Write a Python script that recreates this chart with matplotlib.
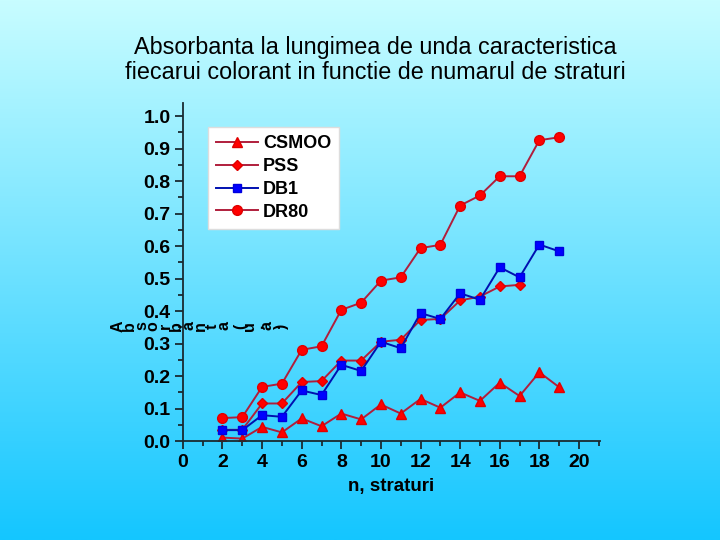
import numpy as np
import matplotlib.pyplot as plt
from matplotlib.ticker import MultipleLocator

plt.rcParams['font.family'] = ['Liberation Sans', 'DejaVu Sans']

# layers (n, straturi)
n_layers = list(range(2, 20))

csmoo = [0.011, 0.008, 0.044, 0.027, 0.070, 0.046, 0.085, 0.067, 0.113,
         0.085, 0.130, 0.103, 0.150, 0.124, 0.180, 0.139, 0.212, 0.166]
pss = [0.035, 0.035, 0.116, 0.116, 0.182, 0.185, 0.248, 0.248, 0.306,
       0.312, 0.373, 0.376, 0.433, 0.445, 0.476, 0.481]
db1 = [0.034, 0.034, 0.080, 0.075, 0.156, 0.142, 0.235, 0.216, 0.306,
       0.286, 0.394, 0.376, 0.455, 0.435, 0.535, 0.504, 0.605, 0.584]
dr80 = [0.071, 0.074, 0.167, 0.177, 0.281, 0.292, 0.404, 0.426, 0.494,
        0.504, 0.594, 0.604, 0.725, 0.756, 0.815, 0.815, 0.926, 0.935]

title = "Absorbanta la lungimea de unda caracteristica\nfiecarui colorant in functie de numarul de straturi"
ylabel = "Absorbanta (u.a.)"

fig = plt.figure(figsize=(7.2, 5.4), dpi=100)

# background gradient
bg = fig.add_axes([0, 0, 1, 1], zorder=-1)
top_c = np.array([200, 253, 255]) / 255.0
bot_c = np.array([20, 198, 255]) / 255.0
t = np.linspace(0, 1, 256)[:, None]
grad = top_c[None, :] * (1 - t) + bot_c[None, :] * t
bg.imshow(grad[:, None, :], aspect='auto', extent=[0, 1, 0, 1])
bg.axis('off')

ax = fig.add_axes([0.254, 0.183, 0.579, 0.626])
ax.patch.set_alpha(0)

red_line = '#b01e3c'
ax.plot(n_layers, csmoo, '-^', color=red_line, mfc='#ff0000', mec='#e00000',
        ms=7.5, lw=1.4, label='CSMOO')
ax.plot(n_layers[:len(pss)], pss, '-D', color=red_line, mfc='#ff0000', mec='#e00000',
        ms=5.6, lw=1.4, label='PSS')
ax.plot(n_layers, db1, '-s', color='#0010b0', mfc='#0000ff', mec='#0000dd',
        ms=6, lw=1.4, label='DB1')
ax.plot(n_layers, dr80, '-o', color=red_line, mfc='#ff0000', mec='#e00000',
        ms=7, lw=1.4, label='DR80')

ax.set_xlim(0, 21.05)
ax.set_ylim(0, 1.04)
ax.xaxis.set_major_locator(MultipleLocator(2))
ax.xaxis.set_minor_locator(MultipleLocator(1))
ax.yaxis.set_major_locator(MultipleLocator(0.1))
ax.yaxis.set_minor_locator(MultipleLocator(0.05))
ax.yaxis.set_major_formatter(plt.FormatStrFormatter('%.1f'))

for s in ['top', 'right']:
    ax.spines[s].set_visible(False)
for s in ['left', 'bottom']:
    ax.spines[s].set_color('#1a2a30')
    ax.spines[s].set_linewidth(1.3)

ax.tick_params(which='major', direction='out', length=6, width=1.3,
               color='#1a2a30', labelsize=14, pad=3)
ax.tick_params(which='minor', direction='out', length=3.5, width=1.3, color='#1a2a30')
for lab in ax.get_xticklabels() + ax.get_yticklabels():
    lab.set_fontweight('bold')

ax.set_xlabel('n, straturi', fontsize=13.5, fontweight='bold', labelpad=5)

leg = ax.legend(loc='upper left', bbox_to_anchor=(0.06, 0.93), borderaxespad=0,
                frameon=True, fancybox=False, framealpha=1, edgecolor='#dddddd',
                prop={'weight': 'bold', 'size': 13}, handlelength=2.3,
                handletextpad=0.3, labelspacing=0.33, borderpad=0.45)

# title
fig.text(0.521, 0.889, title, ha='center', va='center', fontsize=16.8, linespacing=1.12)

# garbled y label: every glyph rotated, laid out horizontally
x0 = 112
step = {' ': 7, '(': 7, ')': 7, '.': 5}
for ch in ylabel:
    w = step.get(ch, 11.8)
    fig.text((x0 + w / 2) / 720, 1 - 326 / 540, ch, rotation=90, ha='center',
             va='center', fontsize=11.5, fontweight='bold')
    x0 += w

fig.savefig('out.png', dpi=100)
